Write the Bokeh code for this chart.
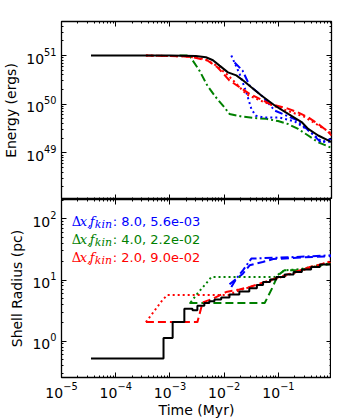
from bokeh.plotting import figure
from bokeh.layouts import column
from bokeh.models import Range1d, LogAxis, Label, LogTicker, CustomJSTickFormatter
from bokeh.embed import file_html
from bokeh.resources import INLINE

# ---------------- Energy panel data (Myr, ergs) ----------------
t_E_black = [3.5e-5, 1e-3, 3e-3, 4.6e-3, 6.2e-3, 8.2e-3, 0.0117, 0.0167, 0.023, 0.0316,
             0.0484, 0.0853, 0.151, 0.267, 0.353, 0.541, 0.96]
E_black = [1.0e51, 1.0e51, 9.8e50, 9.2e50, 8.0e50, 6.2e50, 4.5e50, 3.9e50, 3.0e50, 2.23e50,
           1.51e50, 9.4e49, 6.3e49, 4.3e49, 3.1e49, 2.27e49, 1.66e49]

t_E_red_dash = [3.6e-4, 1.5e-3, 2.8e-3, 4.9e-3, 7.5e-3, 0.0125, 0.0294, 0.069, 0.149, 0.228,
                0.349, 0.535, 0.774, 0.958]
E_red_dash = [1.0e51, 9.7e50, 9.1e50, 7.9e50, 5.75e50, 3.06e50, 1.63e50, 1.02e50, 8.1e49, 6.8e49,
              5.4e49, 3.95e49, 2.87e49, 2.27e49]

t_E_red_dot = [3.6e-4, 2e-3, 4.4e-3, 7.5e-3, 0.0118, 0.0175, 0.0255, 0.045, 0.1, 0.3, 0.96]
E_red_dot = [1.0e51, 9.6e50, 8.5e50, 6.0e50, 3.9e50, 2.5e50, 1.6e50, 1.2e50, 8.5e49, 5.5e49, 2.5e49]

t_E_green = [1.5e-3, 2.28e-3, 3.49e-3, 4.9e-3, 7.0e-3, 0.0101, 0.0125, 0.0207, 0.0364, 0.060,
             0.098, 0.151, 0.231, 0.353, 0.541, 0.958]
E_green = [1.0e51, 1.0e51, 4.9e50, 2.4e50, 1.39e50, 8.6e49, 6.3e49, 5.6e49, 5.2e49, 5.0e49,
           4.5e49, 3.9e49, 3.1e49, 2.27e49, 1.65e49, 1.26e49]

t_E_blue_dot = [0.0135, 0.0192, 0.0255, 0.0316, 0.038, 0.0557, 0.106, 0.2, 0.38, 0.634, 0.958]
E_blue_dot = [1.0e51, 4.2e50, 1.76e50, 8.0e49, 5.8e49, 5.3e49, 5.3e49, 4.4e49, 2.75e49, 1.7e49, 1.7e49]

t_E_blue_dd = [0.0155, 0.0218, 0.0294, 0.049, 0.0853, 0.209, 0.38, 0.607, 0.958]
E_blue_dd = [7.2e50, 4.9e50, 2.4e50, 1.5e50, 7.4e49, 4.8e49, 2.75e49, 1.63e49, 1.97e49]

# ---------------- Shell radius panel data (Myr, pc) ----------------
t_R_black = [3.5e-5, 7.6e-4, 1.12e-3, 1.84e-3, 2.6e-3, 3.2e-3, 4.3e-3, 5.3e-3, 6.6e-3, 8.8e-3,
             0.0125, 0.019, 0.029, 0.040, 0.052, 0.07, 0.091, 0.13, 0.19, 0.27, 0.40, 0.58, 0.96]
R_black = [0.52, 1.13, 2.05, 3.4, 3.2, 3.8, 4.2, 4.5, 4.8, 5.2, 5.8, 6.5, 7.3, 8.3, 9.3, 10.2,
           11.2, 12.3, 13.5, 14.8, 16.3, 18.0, 19.7]

t_R_red_dash = [3.6e-4, 3.2e-3, 4.0e-3, 6.2e-3, 0.0108, 0.019, 0.0294, 0.069, 0.162, 0.38, 0.95]
R_red_dash = [2.05, 2.05, 4.3, 4.95, 6.35, 7.0, 7.7, 9.9, 12.7, 16.3, 20.0]

t_R_red_dot = [3.6e-4, 7.2e-4, 8.9e-4, 0.012, 0.019, 0.045, 0.1, 0.25, 0.55, 0.96]
R_red_dot = [2.05, 4.65, 5.7, 5.7, 6.8, 8.5, 10.8, 14.0, 17.5, 20.5]

t_R_green_dash = [2.28e-3, 0.0557, 0.0785, 0.097, 0.129, 0.245, 0.43, 0.96]
R_green_dash = [4.2, 4.2, 7.7, 11.9, 14.4, 14.4, 16.3, 18.5]

t_R_green_dot = [2.4e-3, 3.3e-3, 4.9e-3, 5.8e-3, 0.085, 0.129, 0.25, 0.45, 0.96]
R_green_dot = [4.3, 6.2, 9.3, 11.2, 11.2, 14.4, 15.0, 16.8, 19.0]

t_R_blue_dd = [0.0135, 0.0167, 0.0221, 0.0316, 0.213, 0.96]
R_blue_dd = [7.7, 10.5, 14.4, 22.4, 23.8, 25.4]

t_R_blue_dash = [0.0125, 0.0221, 0.0294, 0.0512, 0.08, 0.3, 0.96]
R_blue_dash = [8.5, 12.7, 17.4, 19.7, 22.0, 23.5, 24.5]

legend_values = ["8.0, 5.6e-03", "4.0, 2.2e-02", "2.0, 9.0e-02"]
legend_colors = ["#0000ff", "#008000", "#ff0000"]
legend_R = [89.0, 45.9, 23.3]

BLUE, GREEN, RED = "#0000ff", "#008000", "#ff0000"
FONT = "DejaVu Sans"

x_range = Range1d(1e-5, 0.95)


def style_axis(ax, labels=True):
    ax.ticker = LogTicker(num_minor_ticks=10)
    ax.major_tick_in = 5
    ax.major_tick_out = 0
    ax.minor_tick_in = 2
    ax.minor_tick_out = 0
    ax.major_tick_line_color = "black"
    ax.minor_tick_line_color = "black"
    ax.axis_line_color = None
    if labels:
        ax.major_label_text_font = FONT
        ax.major_label_text_font_size = "14px"
        ax.major_label_text_color = "black"
        ax.major_label_standoff = 5
        ax.axis_label_text_font = FONT
        ax.axis_label_text_font_size = "14px"
        ax.axis_label_text_font_style = "normal"
        ax.axis_label_text_color = "black"
        ax.axis_label_standoff = 4
    else:
        ax.formatter = CustomJSTickFormatter(code="return ''")
        ax.major_label_standoff = 0


def make_fig(y_range, top, bottom):
    p = figure(x_axis_type="log", y_axis_type="log", x_range=x_range, y_range=y_range,
               frame_width=270, frame_height=178, min_border_left=55, min_border_right=6,
               min_border_top=top, min_border_bottom=bottom,
               toolbar_location=None, output_backend="svg")
    p.grid.visible = False
    p.outline_line_color = "black"
    p.outline_line_width = 1.3
    p.background_fill_color = "white"
    p.border_fill_color = "white"
    p.add_layout(LogAxis(), "right")
    p.add_layout(LogAxis(), "above")
    return p


# ---------------- Energy figure ----------------
p1 = make_fig(Range1d(1.1e48, 5e51), 21, 0)
style_axis(p1.left[0], True)
p1.left[0].axis_label = "Energy (ergs)"
for ax in [p1.below[0], p1.above[0], p1.right[0]]:
    style_axis(ax, False)

p1.line(t_E_green, E_green, color=GREEN, line_width=2, line_dash="8 3 2 3")
p1.line(t_E_blue_dot, E_blue_dot, color=BLUE, line_width=2, line_dash="2 3")
p1.line(t_E_blue_dd, E_blue_dd, color=BLUE, line_width=2, line_dash="8 3 2 3")
p1.line(t_E_red_dot, E_red_dot, color=RED, line_width=2, line_dash="2 3")
p1.line(t_E_red_dash, E_red_dash, color=RED, line_width=2, line_dash="8 4")
p1.line(t_E_black, E_black, color="black", line_width=2)

# ---------------- Radius figure ----------------
p2 = make_fig(Range1d(0.255, 207), 0, 2)
style_axis(p2.left[0], True)
p2.left[0].axis_label = "Shell Radius (pc)"
style_axis(p2.below[0], True)
p2.below[0].axis_label = "Time (Myr)"
p2.below[0].major_label_standoff = 4
p2.below[0].axis_label_standoff = 1
for ax in [p2.above[0], p2.right[0]]:
    style_axis(ax, False)

p2.line(t_R_blue_dd, R_blue_dd, color=BLUE, line_width=2, line_dash="8 3 2 3")
p2.line(t_R_blue_dash, R_blue_dash, color=BLUE, line_width=2, line_dash="8 4")
p2.line(t_R_green_dot, R_green_dot, color=GREEN, line_width=2, line_dash="2 3")
p2.line(t_R_green_dash, R_green_dash, color=GREEN, line_width=2, line_dash="8 4")
p2.line(t_R_red_dot, R_red_dot, color=RED, line_width=2, line_dash="2 3")
p2.line(t_R_red_dash, R_red_dash, color=RED, line_width=2, line_dash="8 4")
p2.step(t_R_black, R_black, color="black", line_width=2, mode="after")

# legend text, built from pieces (Delta x, f_kin: values)
x_leg = 1.55e-5
for val, col, ry in zip(legend_values, legend_colors, legend_R):
    pieces = [
        ("\u0394", 0, 0, "DejaVu Serif", "normal", "13px"),
        ("x,", 8, 0, "DejaVu Serif", "italic", "13px"),
        ("f", 18, 0, "DejaVu Serif", "italic", "13px"),
        ("kin", 23, -3, "DejaVu Serif", "italic", "11px"),
        (": " + val, 41, 0, FONT, "normal", "13px"),
    ]
    for txt, dx, dy, fnt, sty, size in pieces:
        p2.add_layout(Label(x=x_leg, y=ry, x_offset=dx, y_offset=dy, text=txt,
                            text_font=fnt, text_font_style=sty, text_font_size=size,
                            text_color=col, text_baseline="alphabetic"))

layout = column(p1, p2, spacing=0)
open("out.html", "w").write(file_html(layout, INLINE))
